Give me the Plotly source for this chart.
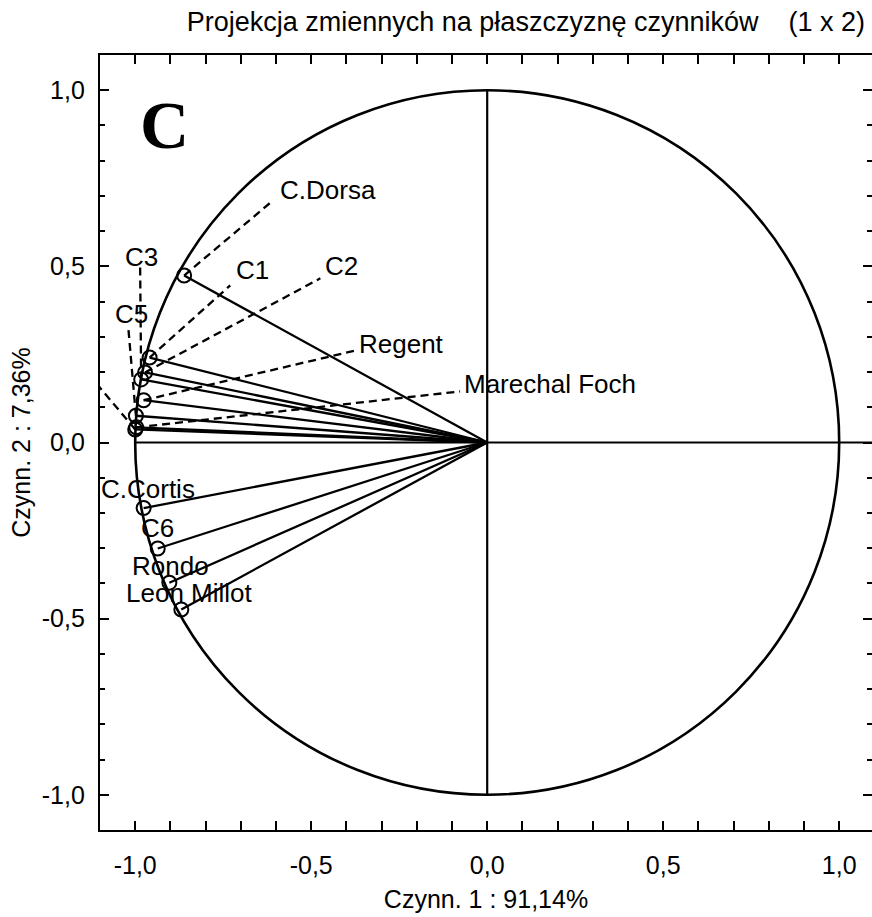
import plotly.graph_objects as go

# Variable loadings on factors 1 and 2
variables = ["C.Dorsa", "C1", "C2", "C3", "Regent", "C5", "C4", "Marechal Foch",
             "C.Cortis", "C6", "Rondo", "Leon Millot"]
factor1 = [-0.861, -0.959, -0.972, -0.983, -0.976, -0.998, -1.000, -0.997,
           -0.976, -0.936, -0.903, -0.869]
factor2 = [0.474, 0.241, 0.199, 0.179, 0.120, 0.076, 0.037, 0.043,
           -0.186, -0.301, -0.398, -0.474]

# Label placement (text centre) and end of the dashed leader line
label_x = [-0.452, -0.668, -0.415, -0.983, -0.244, -1.011, -1.111, 0.179,
           -0.963, -0.938, -0.901, -0.847]
label_y = [0.716, 0.489, 0.500, 0.528, 0.281, 0.364, 0.216, 0.165,
           -0.131, -0.244, -0.350, -0.428]
leader_x = [-0.611, -0.730, -0.474, -0.986, -0.375, -1.020, -1.108, -0.077,
            None, None, None, None]
leader_y = [0.685, 0.446, 0.466, 0.500, 0.261, 0.330, 0.165, 0.145,
            None, None, None, None]

tick_vals = [-1.0, -0.5, 0.0, 0.5, 1.0]
tick_text = [f"{v:.1f}".replace(".", ",") for v in tick_vals]

FONT = "Arial, Liberation Sans, sans-serif"
BLACK = "#000000"

fig = go.Figure()

# axis cross through the origin (horizontal one on the right-hand axis)
fig.add_trace(go.Scatter(x=[-1.0, 1.2], y=[0, 0], mode="lines",
                         line=dict(color=BLACK, width=2.2), yaxis="y2",
                         hoverinfo="skip", showlegend=False))
fig.add_trace(go.Scatter(x=[0, 0], y=[-1.0, 1.0], mode="lines",
                         line=dict(color=BLACK, width=2.2),
                         hoverinfo="skip", showlegend=False))

# dashed leaders from each point to its label
dx, dy = [], []
for fx, fy, lx, ly in zip(factor1, factor2, leader_x, leader_y):
    if lx is None:
        continue
    dx += [fx, lx, None]
    dy += [fy, ly, None]
fig.add_trace(go.Scatter(x=dx, y=dy, mode="lines",
                         line=dict(color=BLACK, width=2.3, dash="8px,5px"),
                         hoverinfo="skip", showlegend=False))

# vectors from the origin
vx, vy = [], []
for fx, fy in zip(factor1, factor2):
    vx += [0, fx, None]
    vy += [0, fy, None]
fig.add_trace(go.Scatter(x=vx, y=vy, mode="lines",
                         line=dict(color=BLACK, width=2.3),
                         hoverinfo="skip", showlegend=False))

# variable points
fig.add_trace(go.Scatter(x=factor1, y=factor2, mode="markers", text=variables,
                         marker=dict(symbol="circle-open", size=14,
                                     color=BLACK, line=dict(width=2, color=BLACK)),
                         showlegend=False))

# unit correlation circle
fig.add_shape(type="circle", xref="x", yref="y", x0=-1, y0=-1, x1=1, y1=1,
              line=dict(color=BLACK, width=2.6), layer="above")

for name, lx, ly in zip(variables, label_x, label_y):
    fig.add_annotation(x=lx, y=ly, xref="x", yref="y", text=name,
                       showarrow=False, xanchor="center", yanchor="middle",
                       font=dict(family=FONT, size=26, color=BLACK))

# panel letter
fig.add_annotation(x=-0.918, y=0.900, xref="x", yref="y", text="<b>C</b>",
                   showarrow=False, xanchor="center", yanchor="middle",
                   font=dict(family="Times New Roman, Liberation Serif, serif",
                             size=68, color=BLACK))

axis_common = dict(
    showgrid=False, zeroline=False,
    showline=True, linecolor=BLACK, linewidth=2.4,
    ticks="inside", ticklen=9, tickwidth=2.2, tickcolor=BLACK,
    tickvals=tick_vals, ticktext=tick_text,
    minor=dict(dtick=0.1, tick0=0, ticks="inside", ticklen=5,
               tickwidth=1.8, tickcolor=BLACK),
    tickfont=dict(family=FONT, size=25, color=BLACK),
    title_font=dict(family=FONT, size=25, color=BLACK),
)

fig.update_layout(
    width=872, height=917,
    margin=dict(l=100, r=0, t=55, b=87),
    plot_bgcolor="white", paper_bgcolor="white",
    showlegend=False,
    title=dict(text="Projekcja zmiennych na płaszczyznę czynników\u00a0\u00a0\u00a0\u00a0(1 x 2)",
               xref="paper", x=(865 - 100) / 772, xanchor="right",
               yref="container", y=1 - 22 / 917, yanchor="middle",
               font=dict(family=FONT, size=27, color=BLACK)),
    xaxis=dict(range=[-1.1, 1.0932], mirror="allticks",
               ticklabelstandoff=12,
               title=dict(text="Czynn. 1 : 91,14%", standoff=12),
               **axis_common),
    yaxis=dict(range=[-1.1, 1.1], mirror=False,
               ticklabelstandoff=8,
               title=dict(text="Czynn. 2 : 7,36%", standoff=4),
               **axis_common),
    yaxis2=dict(range=[-1.1, 1.1], overlaying="y", side="right", matches="y",
                showgrid=False, zeroline=False, showline=False,
                ticks="inside", ticklen=9, tickwidth=2.2, tickcolor=BLACK,
                tickvals=tick_vals, showticklabels=False,
                minor=dict(dtick=0.1, tick0=0, ticks="inside", ticklen=5,
                           tickwidth=1.8, tickcolor=BLACK)),
)

fig.write_html("out.html")
